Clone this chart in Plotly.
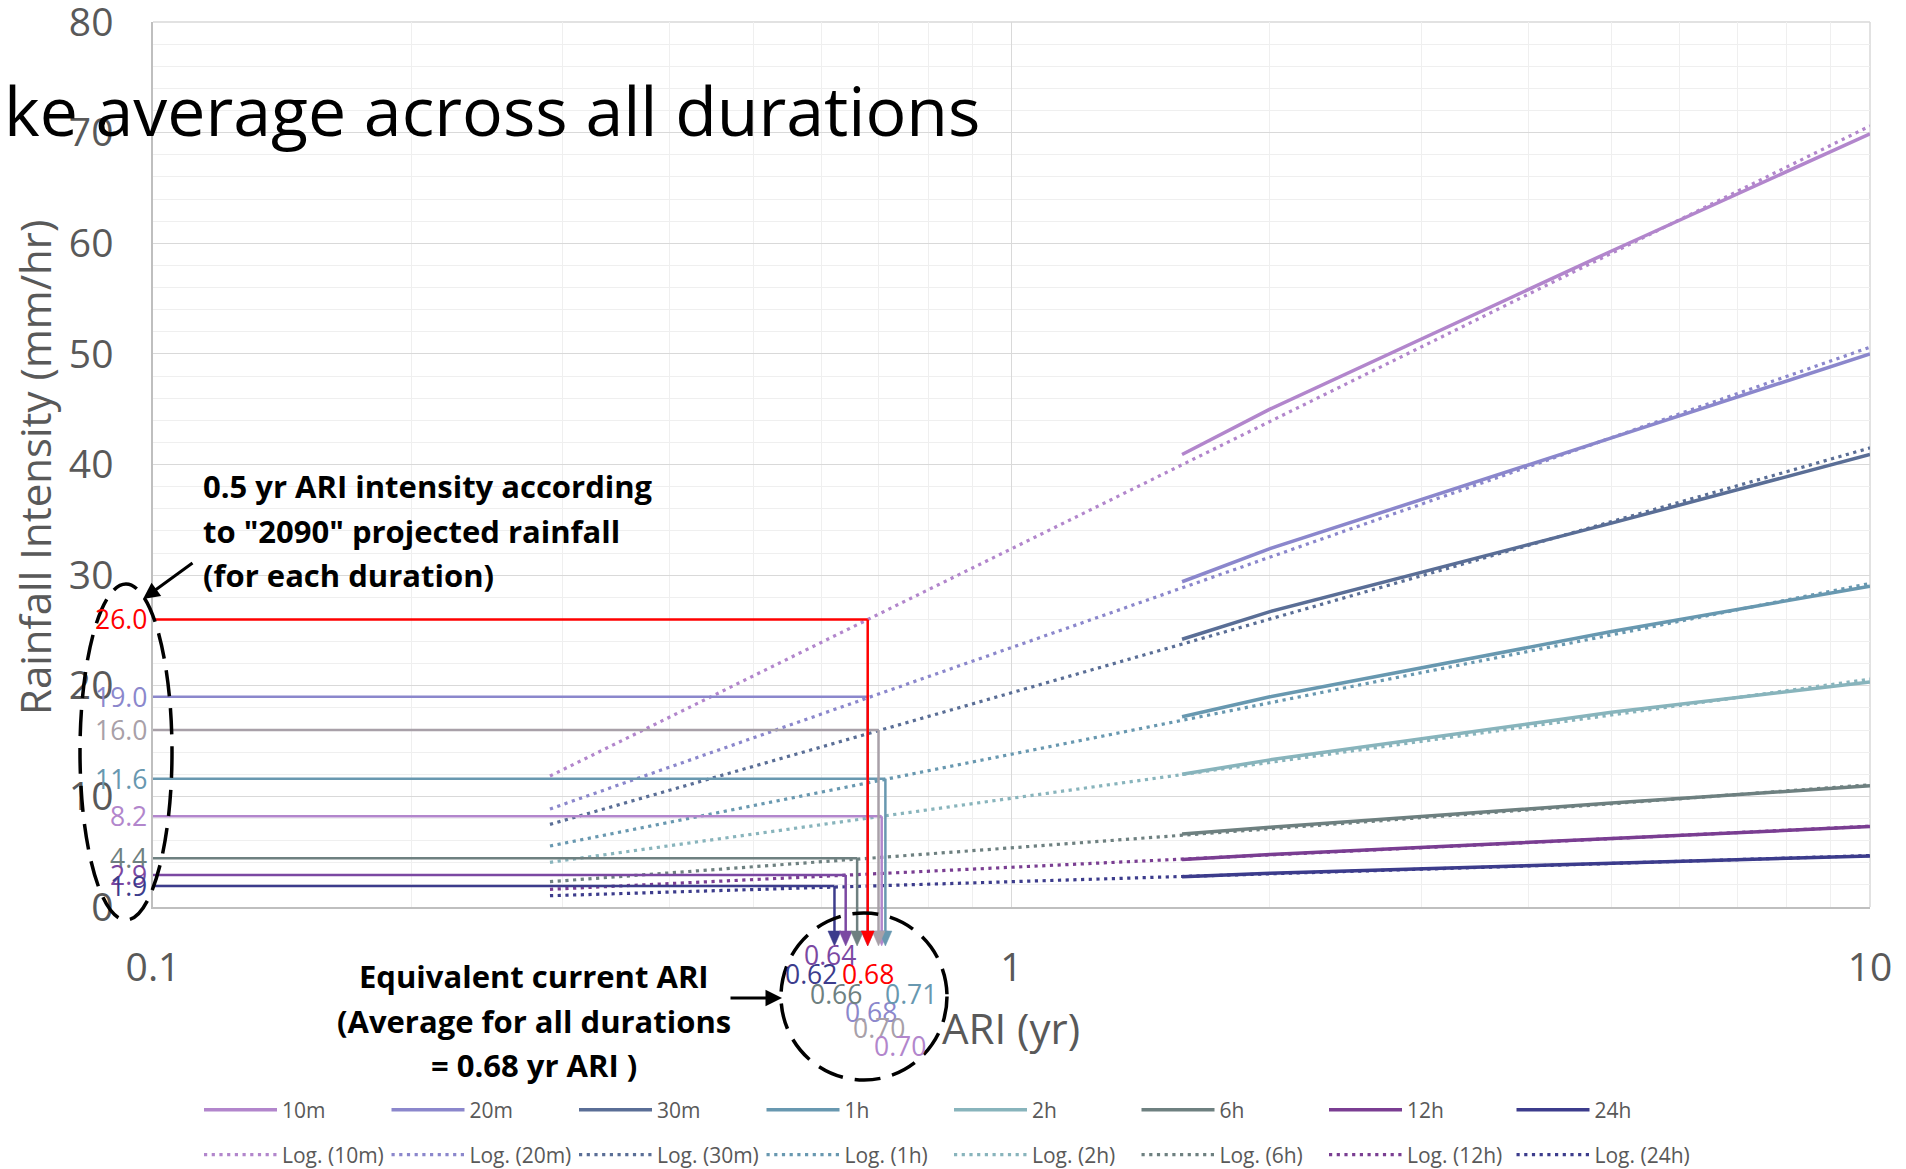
import plotly.graph_objects as go

# ---------------- data ----------------
durations = ['10m', '20m', '30m', '1h', '2h', '6h', '12h', '24h']
ari_pts = [1.58, 2, 5, 10]
i_10m = [40.9, 45.0, 59.3, 69.9]
i_20m = [29.4, 32.4, 42.4, 50.0]
i_30m = [24.2, 26.7, 34.7, 40.9]
i_1h = [17.2, 19.0, 24.9, 29.0]
i_2h = [12.0, 13.3, 17.6, 20.35]
i_6h = [6.6, 7.2, 9.4, 10.95]
i_12h = [4.3, 4.75, 6.2, 7.27]
i_24h = [2.74, 3.05, 3.95, 4.62]
series_vals = [i_10m, i_20m, i_30m, i_1h, i_2h, i_6h, i_12h, i_24h]

# logarithmic trendlines (Excel), read at their two ends
trend_ari = [0.29, 10]
t_10m = [11.84, 70.6]
t_20m = [8.86, 50.6]
t_30m = [7.47, 41.5]
t_1h = [5.51, 29.25]
t_2h = [4.04, 20.6]
t_6h = [2.29, 11.05]
t_12h = [1.60, 7.3]
t_24h = [1.02, 4.65]
trend_vals = [t_10m, t_20m, t_30m, t_1h, t_2h, t_6h, t_12h, t_24h]

series_colors = ['#b286cc', '#8b87cc', '#5a6e96', '#6898b0',
                 '#88b4bc', '#6e8080', '#7a3e92', '#3c3c8c']

# 0.5 yr ARI "2090" intensities and equivalent current ARI
i_2090 = [26.0, 19.0, 16.0, 11.6, 8.2, 4.4, 2.9, 1.9]
i_2090_labels = ['26.0', '19.0', '16.0', '11.6', '8.2', '4.4', '2.9', '1.9']
equiv_ari = [0.68, 0.68, 0.70, 0.713, 0.706, 0.661, 0.641, 0.622]
equiv_labels = ['0.68', '0.68', '0.70', '0.71', '0.70', '0.66', '0.64', '0.62']
ann_colors = ['#ff0000', '#8b87cc', '#a8a0a8', '#6898b0',
              '#b286cc', '#6e8080', '#7b48a2', '#3c3c8c']
# label centres inside the dashed circle (pixels)
equiv_label_pos = [(868, 974), (871, 1012), (879, 1028), (911, 994),
                   (900, 1046), (836, 994), (830, 955), (811, 974)]

y_ticks = [0, 10, 20, 30, 40, 50, 60, 70, 80]
x_ticks = [0.1, 1, 10]
x_tick_text = ['0.1', '1', '10']

# ---------------- geometry ----------------
W, H = 1906, 1169
L, R, T, B = 153, 36, 22, 262
PW, PH = W - L - R, H - T - B
Y_MAX = 80


def pxx(px):
    return (px - L) / PW


def pxy(py):
    return (H - B - py) / PH


FONT = 'Open Sans'
GREY = '#595959'

fig = go.Figure()

for name, vals, col in zip(durations, series_vals, series_colors):
    fig.add_trace(go.Scatter(x=ari_pts, y=vals, mode='lines', name=name,
                             line=dict(color=col, width=3.5),
                             legend='legend'))
for name, vals, col in zip(durations, trend_vals, series_colors):
    fig.add_trace(go.Scatter(x=trend_ari, y=vals, mode='lines',
                             name='Log. (%s)' % name,
                             line=dict(color=col, width=3.2, dash='3.2px,4.5px'),
                             legend='legend2'))

shapes = []
annotations = []

# plot frame on top/right (grid lines at the range ends)
shapes.append(dict(type='line', xref='paper', yref='paper', x0=0, x1=1, y0=1, y1=1,
                   line=dict(color='#d9d9d9', width=1.5), layer='below'))
shapes.append(dict(type='line', xref='paper', yref='paper', x0=1, x1=1, y0=0, y1=1,
                   line=dict(color='#d9d9d9', width=1.5), layer='below'))

order = [7, 6, 5, 4, 3, 2, 1, 0]
tip_py = 946
for i in order:
    c = ann_colors[i]
    shapes.append(dict(type='line', xref='x', yref='y', x0=0.1, x1=equiv_ari[i],
                       y0=i_2090[i], y1=i_2090[i], line=dict(color=c, width=2.5)))
    shapes.append(dict(type='line', xref='x', yref='paper', x0=equiv_ari[i],
                       x1=equiv_ari[i], y0=i_2090[i] / Y_MAX, y1=pxy(tip_py - 10),
                       line=dict(color=c, width=2.5)))
    # arrow head (pixel-sized triangle anchored at the arrow tip)
    shapes.append(dict(type='path', xref='x', yref='paper',
                       xsizemode='pixel', ysizemode='pixel',
                       xanchor=equiv_ari[i], yanchor=pxy(tip_py),
                       path='M-6.5,15 L6.5,15 L0,0 Z',
                       fillcolor=c, line=dict(color=c, width=0.5)))

# left value labels
for i in range(8):
    annotations.append(dict(xref='paper', yref='y', x=pxx(149), y=i_2090[i],
                            text=i_2090_labels[i], showarrow=False,
                            xanchor='right', yanchor='middle',
                            font=dict(family=FONT, size=26.5, color=ann_colors[i])))
# circle labels
for i in range(8):
    px, py = equiv_label_pos[i]
    annotations.append(dict(xref='paper', yref='paper', x=pxx(px), y=pxy(py),
                            text=equiv_labels[i], showarrow=False,
                            xanchor='center', yanchor='middle',
                            font=dict(family=FONT, size=26.5, color=ann_colors[i])))

# dashed ellipses
shapes.append(dict(type='circle', xref='paper', yref='paper',
                   x0=pxx(80), x1=pxx(172), y0=pxy(920), y1=pxy(584),
                   line=dict(color='black', width=3.5, dash='26px,12px')))
shapes.append(dict(type='circle', xref='paper', yref='paper',
                   x0=pxx(781), x1=pxx(947), y0=pxy(1080), y1=pxy(913),
                   line=dict(color='black', width=3.5, dash='26px,12px')))

# explanatory text
block1 = ['0.5 yr ARI intensity according', 'to "2090" projected rainfall',
          '(for each duration)']
for t, py in zip(block1, [486, 531, 575]):
    annotations.append(dict(xref='paper', yref='paper', x=pxx(201), y=pxy(py),
                            text='<b>%s</b>' % t, showarrow=False,
                            xanchor='left', yanchor='middle',
                            font=dict(family=FONT, size=31, color='black')))
block2 = ['Equivalent current ARI', '(Average for all durations', '= 0.68 yr ARI )']
for t, py in zip(block2, [976, 1021, 1065]):
    annotations.append(dict(xref='paper', yref='paper', x=pxx(534), y=pxy(py),
                            text='<b>%s</b>' % t, showarrow=False,
                            xanchor='center', yanchor='middle',
                            font=dict(family=FONT, size=31, color='black')))
# arrows
annotations.append(dict(xref='paper', yref='paper', x=pxx(143), y=pxy(599),
                        ax=51, ay=-37, text='', showarrow=True, arrowhead=2,
                        arrowsize=1.1, arrowwidth=3, arrowcolor='black'))
annotations.append(dict(xref='paper', yref='paper', x=pxx(782), y=pxy(998),
                        ax=-53, ay=0, text='', showarrow=True, arrowhead=2,
                        arrowsize=1.1, arrowwidth=3, arrowcolor='black'))

# titles
annotations.append(dict(xref='paper', yref='paper', x=pxx(982), y=pxy(110),
                        text='ke average across all durations', showarrow=False,
                        xanchor='right', yanchor='middle',
                        font=dict(family=FONT, size=68, color='black')))
annotations.append(dict(xref='paper', yref='paper', x=pxx(34), y=pxy(468),
                        text='Rainfall Intensity (mm/hr)', showarrow=False,
                        textangle=-90, xanchor='center', yanchor='middle',
                        font=dict(family=FONT, size=42, color=GREY)))
annotations.append(dict(xref='paper', yref='paper', x=pxx(1011), y=pxy(1027),
                        text='ARI (yr)', showarrow=False,
                        xanchor='center', yanchor='middle',
                        font=dict(family=FONT, size=42, color=GREY)))

minor_x = [0.2, 0.3, 0.4, 0.5, 0.6, 0.7, 0.8, 0.9, 2, 3, 4, 5, 6, 7, 8, 9]

fig.update_layout(
    width=W, height=H,
    margin=dict(l=L, r=R, t=T, b=B, autoexpand=False),
    paper_bgcolor='white', plot_bgcolor='white',
    font=dict(family=FONT, color=GREY),
    xaxis=dict(type='log', range=[-1, 1], tickvals=x_ticks,
               ticktext=x_tick_text, showgrid=True, gridcolor='#d9d9d9',
               gridwidth=1.3, zeroline=False, showline=True, linecolor='#bfbfbf',
               linewidth=1.5, ticks='', ticklabelstandoff=25,
               ticklabeloverflow='allow',
               tickfont=dict(family=FONT, size=39, color=GREY),
               minor=dict(tickvals=minor_x, showgrid=True, gridcolor='#efefef',
                          gridwidth=1.3, ticks='')),
    yaxis=dict(range=[0, Y_MAX], tickvals=y_ticks, showgrid=True,
               gridcolor='#d9d9d9', gridwidth=1.3, zeroline=False, showline=True,
               linecolor='#bfbfbf', linewidth=1.5, ticks='', ticklabelstandoff=30,
               ticklabeloverflow='allow',
               tickfont=dict(family=FONT, size=39, color=GREY),
               minor=dict(dtick=2, showgrid=True, gridcolor='#efefef',
                          gridwidth=1.3, ticks='')),
    legend=dict(orientation='h', x=pxx(199), y=pxy(1110), xanchor='left',
                yanchor='middle', itemwidth=73, entrywidth=99.5,
                entrywidthmode='pixels', font=dict(family=FONT, size=21, color=GREY),
                bgcolor='rgba(0,0,0,0)', traceorder='normal'),
    legend2=dict(orientation='h', x=pxx(199), y=pxy(1155), xanchor='left',
                 yanchor='middle', itemwidth=73, entrywidth=99.5,
                 entrywidthmode='pixels', font=dict(family=FONT, size=21, color=GREY),
                 bgcolor='rgba(0,0,0,0)', traceorder='normal'),
    shapes=shapes, annotations=annotations, showlegend=True,
)

fig.write_html('out.html')
